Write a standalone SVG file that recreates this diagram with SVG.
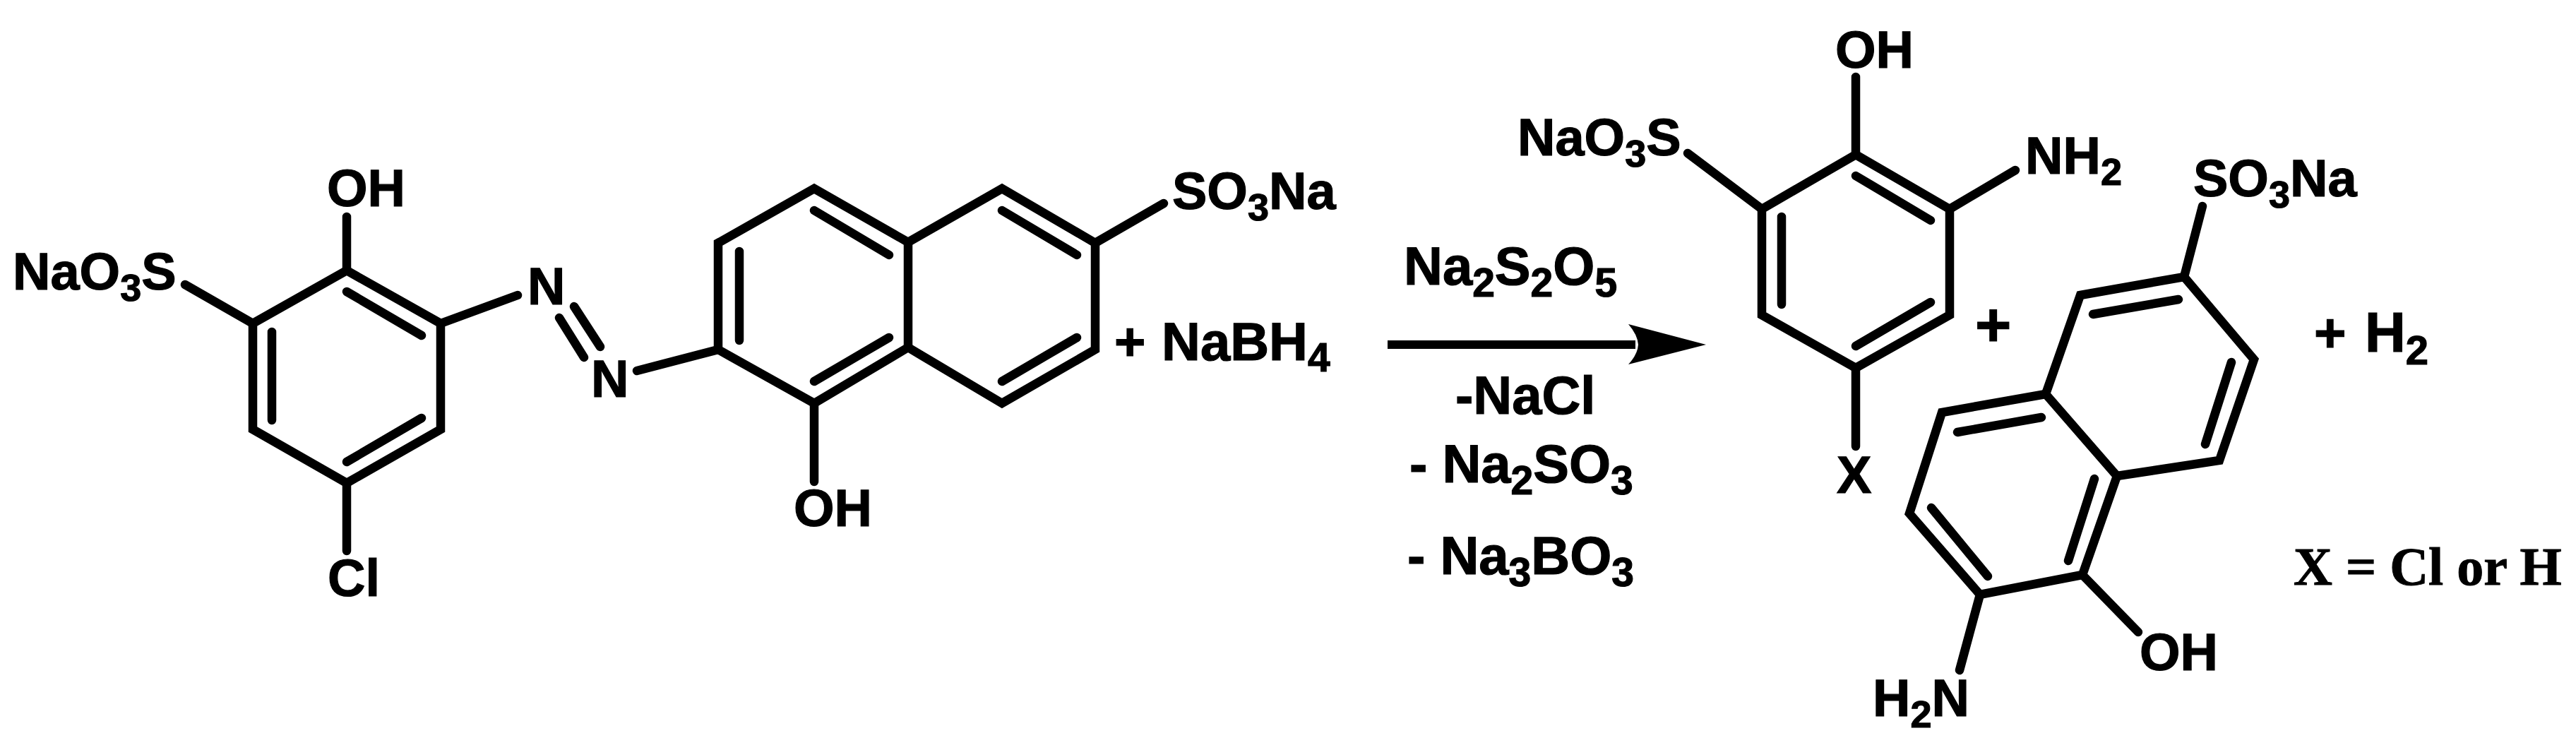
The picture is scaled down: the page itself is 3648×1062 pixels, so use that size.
<svg xmlns="http://www.w3.org/2000/svg" width="3648" height="1062" viewBox="0 0 3648 1062">
<style>
.b{fill:none;stroke:#000;stroke-width:12.5;stroke-linecap:round;stroke-linejoin:miter}
.t{font-family:"Liberation Sans",Arial,sans-serif;font-weight:bold;font-size:74px;fill:#000;stroke:#000;stroke-width:1.2}
.s{font-size:54px}
.g{font-size:76px}
.g .s,.g.s{font-size:57px}
.r{font-family:"Liberation Serif","Times New Roman",serif;font-weight:bold;font-size:76px;fill:#000;stroke:#000;stroke-width:1}
</style>
<rect width="3648" height="1062" fill="#fff"/>
<g id="azo-reactant">
<path class="b" d="M491 383L624 458V608L491 684L358 608V458Z"/>
<path class="b" d="M491 413L597 475M385 470V595M491 654L597 592M491 307V383M262 403L358 458M491 684V780M624 458L733 418"/>
<path class="b" d="M813 434L850 491M792 450L827 506M902 525L1017 495"/>
<path class="b" d="M1017 344L1153 267L1286 343L1419 267L1551 344V495L1419 571L1286 492L1153 571L1017 495Z"/>
<path class="b" d="M1286 343V492M1153 298L1259 361M1419 298L1525 361M1047 356V482M1153 540L1259 478M1419 540L1525 478M1153 571V682M1551 344L1648 288"/>
<text class="t" x="463" y="292">OH</text>
<text class="t" x="18" y="410">NaO<tspan class="s" dy="16">3</tspan><tspan dy="-16">S</tspan></text>
<text class="t" x="747" y="431">N</text>
<text class="t" x="837" y="562">N</text>
<text class="t" x="464" y="844">Cl</text>
<text class="t" x="1124" y="745">OH</text>
<text class="t" x="1660" y="296">SO<tspan class="s" dy="16">3</tspan><tspan dy="-16">Na</tspan></text>
</g>
<g id="nabh4">
<text class="t" x="1578" y="510" style="font-size:76px">+</text>
<text class="t g" x="1645" y="510">NaBH<tspan class="s" dy="16">4</tspan></text>
</g>
<g id="reagents">
<text class="t g" x="1988" y="403">Na<tspan class="s" dy="17">2</tspan><tspan dy="-17">S</tspan><tspan class="s" dy="17">2</tspan><tspan dy="-17">O</tspan><tspan class="s" dy="17">5</tspan></text>
<text class="t g" x="2061" y="586">-NaCl</text>
<text class="t g" x="1996" y="683">- Na<tspan class="s" dy="17">2</tspan><tspan dy="-17">SO</tspan><tspan class="s" dy="17">3</tspan></text>
<text class="t g" x="1993" y="813">- Na<tspan class="s" dy="17">3</tspan><tspan dy="-17">BO</tspan><tspan class="s" dy="17">3</tspan></text>
</g>
<g id="connectors">
<path d="M1965 482H2316V494H1965Z" fill="#000"/>
<path d="M2306 459L2416 488L2306 516Q2319 502 2320 488Q2319 474 2306 459Z" fill="#000"/>
</g>
<g id="aminophenol">
<path class="b" d="M2628 219L2761 296V446L2628 521L2495 446V296Z"/>
<path class="b" d="M2628 249L2734 312M2523 307V431M2628 490L2734 428M2628 109V219M2390 217L2495 296M2761 296L2854 241M2628 521V632"/>
<text class="t" x="2599" y="96">OH</text>
<text class="t" x="2149" y="220">NaO<tspan class="s" dy="16">3</tspan><tspan dy="-16">S</tspan></text>
<text class="t" x="2868" y="246">NH<tspan class="s" dy="16">2</tspan></text>
<text class="t" x="2601" y="698">X</text>
</g>
<g id="plus">
<text class="t" x="2797" y="490" style="font-size:88px">+</text>
</g>
<g id="aminonaphthol">
<path class="b" d="M2946 418L3093 392L3192 509L3143 652L2998 674L2897 558Z"/>
<path class="b" d="M2897 558L2750 584L2704 727L2804 842L2949 814L2998 674"/>
<path class="b" d="M2964 445L3085 424M3160 513L3123 629M2772 612L2891 591M2735 719L2815 816M2929 794L2966 678M2949 814L3028 895M2804 842L2775 949M3093 392L3119 292"/>
<text class="t" x="3106" y="278">SO<tspan class="s" dy="16">3</tspan><tspan dy="-16">Na</tspan></text>
<text class="t" x="3030" y="949">OH</text>
<text class="t" x="2652" y="1014">H<tspan class="s" dy="16">2</tspan><tspan dy="-16">N</tspan></text>
</g>
<g id="h2">
<text class="t" x="3277" y="498" style="font-size:78px">+</text>
<text class="t" x="3349" y="498" style="font-size:80px">H<tspan style="font-size:58px" dy="18">2</tspan></text>
</g>
<g id="x-note">
<text class="r" x="3248" y="828">X = Cl or H</text>
</g>
</svg>
